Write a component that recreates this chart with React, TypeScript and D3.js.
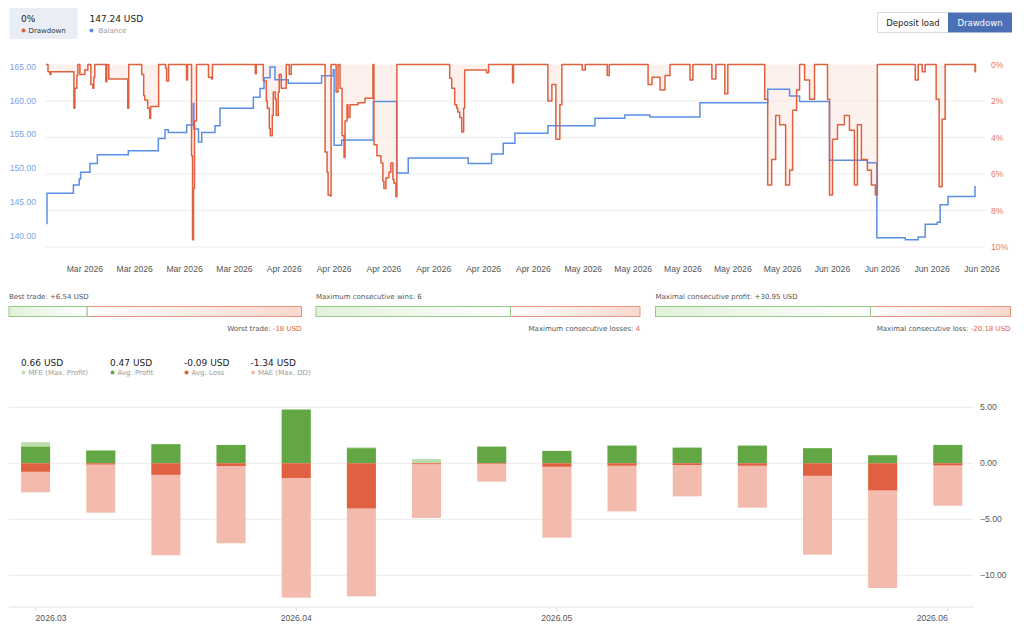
import React, { useEffect, useRef } from 'react';
import * as d3 from 'd3';

const WIDTH = 1024;
const HEIGHT = 630;

const UI_FONT = '"DejaVu Sans", Verdana, sans-serif';
const AXIS_FONT = '"Liberation Sans", Arial, sans-serif';

// Header values
const currentDrawdown = '0%';
const currentBalance = '147.24 USD';

// Balance curve: [trading day, USD]
const balance: [number, number][] = [
  [0.15, 141.8], [0.2, 146.3], [2.85, 147.5], [3.43, 148.4], [3.57, 149.4], [4.51, 150.7],
  [5.25, 152.0], [8.36, 152.6], [11.37, 154.4], [12.04, 155.7], [12.37, 155.3], [14.21, 156.4],
  [14.87, 159.6], [14.93, 155.8], [15.4, 153.9], [15.72, 155.3], [17.05, 156.3], [17.55, 158.9],
  [20.9, 160.5], [21.57, 161.8], [21.97, 163.4], [22.57, 165.0], [23.07, 163.1], [24.4, 162.6],
  [27.75, 163.7], [28.92, 164.6], [29.0, 153.4], [29.76, 154.2], [32.93, 159.9], [35.28, 149.3],
  [36.44, 151.5], [42.46, 150.7], [44.8, 152.1], [45.97, 153.7], [47.14, 155.2], [50.45, 156.3],
  [55.17, 157.4], [58.17, 157.9], [60.68, 157.6], [65.7, 159.7], [72.5, 161.7], [74.7, 160.7],
  [75.7, 159.9], [78.7, 151.2], [82.5, 150.8], [83.45, 139.7], [86.3, 139.4], [87.6, 139.8],
  [88.3, 141.7], [89.5, 142.0], [89.8, 144.6], [90.6, 145.8], [93.3, 147.24], [93.4, 147.24],
];

// Drawdown curve: [trading day, percent]
const drawdown: [number, number][] = [
  [0.1, 0], [0.3, 0.4], [0.5, 0.55], [0.6, 0.4], [2.8, 0.4], [2.9, 2.4], [3.0, 1.3], [3.2, 0.6],
  [3.3, 0], [3.5, 0.55], [4.0, 0.3], [4.3, 0], [4.6, 1.1], [4.8, 1.3], [4.9, 0.7], [5.0, 0],
  [6.0, 0], [6.1, 0.95], [6.2, 0], [6.4, 0.8], [8.2, 0.8], [8.3, 2.4], [8.4, 0], [9.6, 0],
  [9.7, 0.55], [9.9, 1.7], [10.0, 1.95], [10.3, 2.4], [10.5, 2.95], [10.6, 2.3], [11.3, 2.3],
  [11.4, 0], [12.1, 0.2], [12.2, 0.9], [12.4, 0], [14.2, 0.85], [14.3, 0], [14.6, 0], [14.7, 5.0],
  [14.8, 9.6], [14.9, 6.8], [15.0, 3.1], [15.2, 0], [16.2, 0], [16.4, 0.7], [16.7, 0.8], [16.8, 0],
  [21.0, 0], [21.1, 0.5], [21.2, 0], [21.9, 0.9], [22.2, 2.0], [22.3, 2.4], [22.5, 3.5], [22.6, 3.9],
  [22.8, 2.8], [22.9, 1.5], [23.1, 1.9], [23.2, 2.8], [23.4, 1.5], [23.5, 0.55], [23.7, 1.3],
  [24.2, 0], [24.5, 0.55], [24.7, 0], [28.0, 0], [28.1, 4.8], [28.3, 5.9], [28.4, 7.15], [28.6, 7.2],
  [28.7, 0], [29.2, 1.5], [29.4, 0], [29.6, 1.3], [29.8, 3.9], [30.0, 5.1], [30.1, 3.1], [30.3, 2.2],
  [30.4, 2.9], [30.6, 2.2], [31.4, 2.1], [32.1, 1.85], [32.8, 1.85], [32.9, 0], [33.0, 4.4],
  [33.3, 5.0], [33.7, 5.4], [33.9, 6.4], [34.0, 6.8], [34.2, 6.2], [34.5, 5.9], [34.7, 5.4],
  [34.9, 6.3], [35.0, 6.5], [35.2, 7.25], [35.3, 0], [40.4, 0], [40.6, 0.75], [40.8, 1.3],
  [41.1, 2.2], [41.3, 2.4], [41.4, 2.6], [41.6, 2.9], [41.8, 3.7], [42.0, 2.4], [42.1, 0.3],
  [44.1, 0.3], [44.3, 0.45], [44.5, 0], [46.7, 0], [46.9, 1.0], [47.0, 0], [50.45, 2.0],
  [50.85, 1.1], [51.25, 4.1], [51.65, 2.2], [51.85, 0], [53.9, 0.3], [54.2, 0], [56.4, 0.6],
  [56.6, 0], [60.5, 1.1], [60.9, 0.7], [61.7, 1.4], [62.2, 0.6], [62.7, 0], [64.7, 0.85], [65.0, 0],
  [66.9, 0.8], [67.3, 0], [68.2, 1.6], [68.5, 0], [72.2, 1.9], [72.5, 6.6], [72.9, 5.2], [73.3, 2.8],
  [73.7, 3.3], [74.3, 6.6], [74.7, 5.8], [75.0, 2.5], [75.4, 1.4], [75.7, 0], [76.2, 0.85],
  [76.7, 1.9], [77.2, 0], [78.5, 1.9], [78.7, 7.15], [79.0, 4.1], [79.5, 3.3], [80.2, 2.8],
  [80.7, 3.6], [81.2, 6.6], [81.5, 3.3], [81.9, 5.2], [82.5, 5.8], [82.9, 6.6], [83.3, 7.15],
  [83.5, 0], [87.3, 0.85], [87.6, 0], [88.0, 0.4], [88.3, 0], [89.4, 1.9], [89.7, 6.7], [90.0, 3.0],
  [90.3, 0], [93.3, 0.4], [93.35, 0], [93.4, 0],
];

const dayTicks = [4, 9, 14, 19, 24, 29, 34, 39, 44, 49, 54, 59, 64, 69, 74, 79, 84, 89, 94];
const dayTickLabels = [
  'Mar 2026', 'Mar 2026', 'Mar 2026', 'Mar 2026',
  'Apr 2026', 'Apr 2026', 'Apr 2026', 'Apr 2026', 'Apr 2026', 'Apr 2026',
  'May 2026', 'May 2026', 'May 2026', 'May 2026', 'May 2026',
  'Jun 2026', 'Jun 2026', 'Jun 2026', 'Jun 2026',
];
const balanceTicks = [140, 145, 150, 155, 160, 165];
const drawdownTicks = [0, 2, 4, 6, 8, 10];

// Trade statistics
const bestTrade = 6.54;
const worstTrade = -18;
const maxConsecWins = 6;
const maxConsecLosses = 4;
const maxConsecProfit = 30.95;
const maxConsecLoss = -20.18;

// Weekly MFE / MAE breakdown
const weeks = [
  '2026-03-02', '2026-03-09', '2026-03-16', '2026-03-23', '2026-03-30', '2026-04-06', '2026-04-13',
  '2026-04-20', '2026-04-27', '2026-05-04', '2026-05-11', '2026-05-18', '2026-05-25', '2026-06-01',
  '2026-06-08',
];
const mfe = [1.88, 1.16, 1.72, 1.65, 4.81, 1.43, 0.38, 1.5, 1.12, 1.59, 1.41, 1.59, 1.36, 0.73, 1.65];
const avgProfit = [1.48, 1.13, 1.7, 1.63, 4.79, 1.34, 0, 1.48, 1.1, 1.57, 1.39, 1.57, 1.34, 0.71, 1.63];
const avgLoss = [-0.75, -0.1, -1.02, -0.24, -1.31, -4.02, -0.07, -0.05, -0.3, -0.21, -0.15, -0.21, -1.11, -2.41, -0.18];
const mae = [-2.59, -4.41, -8.21, -7.14, -12.0, -11.88, -4.88, -1.64, -6.64, -4.29, -2.95, -3.96, -8.16, -11.13, -3.79];
const profitTicks = [5, 0, -5, -10];
const monthTicks: [string, string, string][] = [
  ['2026.03', '2026-03-02', 'start'],
  ['2026.04', '2026-03-30', 'middle'],
  ['2026.05', '2026-04-27', 'middle'],
  ['2026.06', '2026-06-08', 'end'],
];

const legendItems = [
  { value: '0.66 USD', name: 'MFE (Max. Profit)', color: '#bcdeae' },
  { value: '0.47 USD', name: 'Avg. Profit', color: '#62a744' },
  { value: '-0.09 USD', name: 'Avg. Loss', color: '#e0603f' },
  { value: '-1.34 USD', name: 'MAE (Max. DD)', color: '#f2bbad' },
];

const BLUE = '#5b8fe6';
const RED = '#e0603f';

const App: React.FC = () => {
  const svgRef = useRef<SVGSVGElement>(null);

  useEffect(() => {
    const svg = d3.select(svgRef.current);
    svg.selectAll('*').remove();

    const defs = svg.append('defs');
    const gGreen = defs.append('linearGradient').attr('id', 'statGreen');
    gGreen.append('stop').attr('offset', '0%').attr('stop-color', '#e2f1da');
    gGreen.append('stop').attr('offset', '100%').attr('stop-color', '#ffffff');
    const gRed = defs.append('linearGradient').attr('id', 'statRed');
    gRed.append('stop').attr('offset', '0%').attr('stop-color', '#ffffff');
    gRed.append('stop').attr('offset', '100%').attr('stop-color', '#f9d8ce');

    // ---- Header
    svg.append('rect')
      .attr('x', 9.5).attr('y', 8).attr('width', 68).attr('height', 31).attr('rx', 2)
      .style('fill', '#e9eef6');
    svg.append('text').attr('x', 21).attr('y', 22)
      .style('font-family', UI_FONT).style('font-size', '9px').style('fill', '#222')
      .text(currentDrawdown);
    svg.append('circle').attr('cx', 23.5).attr('cy', 30.5).attr('r', 2).style('fill', RED);
    svg.append('text').attr('x', 28.5).attr('y', 33)
      .style('font-family', UI_FONT).style('font-size', '7px').style('fill', '#333')
      .text('Drawdown');
    svg.append('text').attr('x', 89.5).attr('y', 22)
      .style('font-family', UI_FONT).style('font-size', '9px').style('fill', '#222')
      .text(currentBalance);
    svg.append('circle').attr('cx', 91.5).attr('cy', 30.5).attr('r', 2).style('fill', BLUE);
    svg.append('text').attr('x', 98.5).attr('y', 33)
      .style('font-family', UI_FONT).style('font-size', '7px').style('fill', '#999')
      .text('Balance');

    // toggle buttons
    svg.append('rect').attr('x', 877.5).attr('y', 12.5).attr('width', 71).attr('height', 20)
      .style('fill', '#fff').style('stroke', '#dcdcdc');
    svg.append('text').attr('x', 913).attr('y', 25.5).attr('text-anchor', 'middle')
      .style('font-family', UI_FONT).style('font-size', '8.5px').style('fill', '#222')
      .text('Deposit load');
    svg.append('rect').attr('x', 948).attr('y', 12.5).attr('width', 64).attr('height', 20)
      .style('fill', '#4c70b6');
    svg.append('text').attr('x', 980).attr('y', 25.5).attr('text-anchor', 'middle')
      .style('font-family', UI_FONT).style('font-size', '8.5px').style('fill', '#fff')
      .text('Drawdown');

    // ---- Balance / drawdown chart
    const x = d3.scaleLinear().domain([0, 94.3]).range([45, 985]);
    const yBal = d3.scaleLinear().domain([138.33, 165.37]).range([247, 64.5]);
    const yDD = d3.scaleLinear().domain([0, 10]).range([64.5, 247]);

    const top = svg.append('g');
    top.selectAll('.grid').data(drawdownTicks.slice(1)).enter().append('line')
      .attr('x1', 45).attr('x2', 985)
      .attr('y1', d => yDD(d)).attr('y2', d => yDD(d))
      .style('stroke', '#ececec').style('stroke-width', 1);

    top.selectAll('.lbl-left').data(balanceTicks).enter().append('text')
      .attr('x', 36).attr('y', d => yBal(d)).attr('dy', '0.35em').attr('text-anchor', 'end')
      .style('font-family', AXIS_FONT).style('font-size', '8.6px').style('fill', '#7ba3e6')
      .text(d => d3.format('.2f')(d));

    top.selectAll('.lbl-right').data(drawdownTicks).enter().append('text')
      .attr('x', 991).attr('y', d => yDD(d)).attr('dy', '0.35em')
      .style('font-family', AXIS_FONT).style('font-size', '8.6px').style('fill', '#ea7a5a')
      .text(d => `${d}%`);

    top.selectAll('.lbl-x').data(dayTicks).enter().append('text')
      .attr('x', d => x(d)).attr('y', 272).attr('text-anchor', 'middle')
      .style('font-family', AXIS_FONT).style('font-size', '8.6px').style('fill', '#555')
      .text((d, i) => dayTickLabels[i]);

    const ddArea = d3.area<[number, number]>()
      .x(d => x(d[0])).y0(yDD(0)).y1(d => yDD(d[1]))
      .curve(d3.curveStepAfter);
    top.append('path').datum(drawdown).attr('d', ddArea)
      .style('fill', '#fce8e1').style('fill-opacity', 0.6);

    const balLine = d3.line<[number, number]>()
      .x(d => x(d[0])).y(d => yBal(d[1])).curve(d3.curveStepAfter);
    top.append('path').datum(balance).attr('d', balLine)
      .style('fill', 'none').style('stroke', BLUE).style('stroke-width', 1.5);

    const ddLine = d3.line<[number, number]>()
      .x(d => x(d[0])).y(d => yDD(d[1])).curve(d3.curveStepAfter);
    top.append('path').datum(drawdown).attr('d', ddLine)
      .style('fill', 'none').style('stroke', RED).style('stroke-width', 1.5)
      .style('stroke-linejoin', 'round');

    // ---- Trade statistic bars
    const stats = [
      { x0: 9, x1: 301.5, good: bestTrade, bad: worstTrade,
        topText: ['Best trade: ', `+${bestTrade} USD`], botText: ['Worst trade: ', `${worstTrade} USD`] },
      { x0: 316, x1: 640, good: maxConsecWins, bad: -maxConsecLosses,
        topText: ['Maximum consecutive wins: ', `${maxConsecWins}`], botText: ['Maximum consecutive losses: ', `${maxConsecLosses}`] },
      { x0: 655.5, x1: 1010.5, good: maxConsecProfit, bad: maxConsecLoss,
        topText: ['Maximal consecutive profit: ', `+${maxConsecProfit} USD`], botText: ['Maximal consecutive loss: ', `${maxConsecLoss} USD`] },
    ];
    stats.forEach(s => {
      const sx = d3.scaleLinear().domain([0, s.good + Math.abs(s.bad)]).range([s.x0, s.x1]);
      const split = sx(s.good);
      const g = svg.append('g');
      g.append('rect').attr('x', split).attr('y', 306.5).attr('width', s.x1 - split).attr('height', 10)
        .style('fill', 'url(#statRed)').style('stroke', '#e9957f').style('stroke-width', 1);
      g.append('rect').attr('x', s.x0).attr('y', 306.5).attr('width', split - s.x0).attr('height', 10)
        .style('fill', 'url(#statGreen)').style('stroke', '#94c986').style('stroke-width', 1);
      const t1 = g.append('text').attr('x', s.x0).attr('y', 299)
        .style('font-family', UI_FONT).style('font-size', '7px').style('fill', '#555');
      t1.append('tspan').text(s.topText[0]);
      t1.append('tspan').text(s.topText[1]);
      const t2 = g.append('text').attr('x', s.x1).attr('y', 331).attr('text-anchor', 'end')
        .style('font-family', UI_FONT).style('font-size', '7px').style('fill', '#555');
      t2.append('tspan').text(s.botText[0]);
      t2.append('tspan').style('fill', RED).text(s.botText[1]);
    });

    // ---- Legend for weekly chart
    const legendX = [21, 110, 184, 250.5];
    legendItems.forEach((item, i) => {
      svg.append('text').attr('x', legendX[i]).attr('y', 365.5)
        .style('font-family', UI_FONT).style('font-size', '9px').style('fill', '#222')
        .text(item.value);
      svg.append('circle').attr('cx', legendX[i] + 2.5).attr('cy', 372.5).attr('r', 2)
        .style('fill', item.color);
      svg.append('text').attr('x', legendX[i] + 7.5).attr('y', 375)
        .style('font-family', UI_FONT).style('font-size', '7px').style('fill', '#999')
        .text(item.name);
    });

    // ---- Weekly MFE / MAE bars
    const xb = d3.scaleBand().domain(weeks).range([3, 980.4]).paddingInner(0.555).paddingOuter(0.2775);
    const yb = d3.scaleLinear().domain([-12.83, 6.5]).range([607, 390.5]);
    const bot = svg.append('g');

    bot.selectAll('.grid').data(profitTicks).enter().append('line')
      .attr('x1', 9).attr('x2', 974)
      .attr('y1', d => yb(d)).attr('y2', d => yb(d))
      .style('stroke', '#ececec');
    bot.append('line').attr('x1', 9).attr('x2', 974).attr('y1', 607).attr('y2', 607)
      .style('stroke', '#e2e2e2');

    bot.selectAll('.lbl-y').data(profitTicks).enter().append('text')
      .attr('x', 980).attr('y', d => yb(d)).attr('dy', '0.35em')
      .style('font-family', AXIS_FONT).style('font-size', '8.6px').style('fill', '#555')
      .text(d => d3.format('.2f')(d));

    monthTicks.forEach(([label, wk, anchor]) => {
      const cx = (xb(wk) || 0) + xb.bandwidth() / 2;
      bot.append('line').attr('x1', cx).attr('x2', cx).attr('y1', 607).attr('y2', 611)
        .style('stroke', '#ddd');
      bot.append('text').attr('x', cx).attr('y', 621).attr('text-anchor', anchor)
        .style('font-family', AXIS_FONT).style('font-size', '8.6px').style('fill', '#555')
        .text(label);
    });

    const drawBars = (vals: number[], color: string) => {
      bot.selectAll(null).data(vals).enter().append('rect')
        .attr('x', (d, i) => xb(weeks[i]) || 0)
        .attr('width', xb.bandwidth())
        .attr('y', d => Math.min(yb(d), yb(0)))
        .attr('height', d => Math.abs(yb(d) - yb(0)))
        .style('fill', color);
    };
    drawBars(mfe, '#bcdeae');
    drawBars(avgProfit, '#62a744');
    drawBars(mae, '#f2bbad');
    drawBars(avgLoss, '#df6142');
  }, []);

  return (
    <svg
      ref={svgRef}
      width={WIDTH}
      height={HEIGHT}
      style={{ position: 'absolute', left: 0, top: 0, background: '#fff' }}
    />
  );
};

export default App;
